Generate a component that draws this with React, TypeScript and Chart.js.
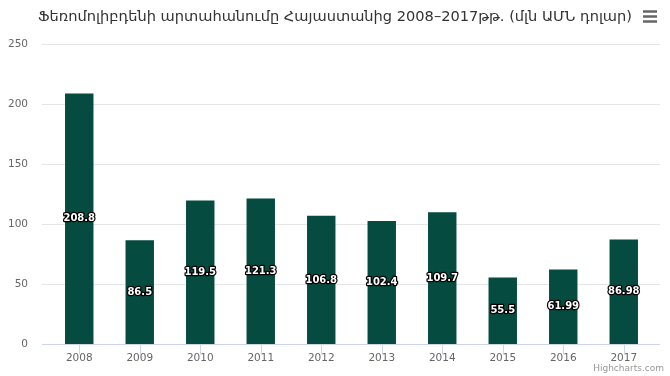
import React, { useEffect, useRef } from "react";
import { Chart, registerables } from "chart.js";

Chart.register(...registerables);

const TITLE = "Ֆեռոմոլիբդենի արտահանումը Հայաստանից 2008–2017թթ. (մլն ԱՄՆ դոլար)";
const CATEGORIES = ["2008", "2009", "2010", "2011", "2012", "2013", "2014", "2015", "2016", "2017"];
const VALUES = [208.8, 86.5, 119.5, 121.3, 106.8, 102.4, 109.7, 55.5, 61.99, 86.98];
const Y_TICKS = [0, 50, 100, 150, 200, 250];
const CREDIT = "Highcharts.com";

const BAR_COLOR = "#054b3f";

export default function App() {
  const ref = useRef<HTMLCanvasElement | null>(null);

  useEffect(() => {
    document.body.style.margin = "0";
    const canvas = ref.current;
    if (!canvas) return;

    const decor = {
      id: "decor",
      beforeDatasetsDraw(chart: any) {
        const ctx = chart.ctx;
        const y = chart.scales.y;
        const x = chart.scales.x;
        ctx.save();
        ctx.strokeStyle = "#e6e6e6";
        ctx.lineWidth = 1;
        for (const v of Y_TICKS) {
          if (v === 0) continue;
          const py = Math.round(y.getPixelForValue(v)) + 0.5;
          ctx.beginPath();
          ctx.moveTo(42, py);
          ctx.lineTo(660, py);
          ctx.stroke();
        }
        const p0 = Math.round(y.getPixelForValue(0)) + 0.5;
        ctx.strokeStyle = "#ccd6eb";
        ctx.beginPath();
        ctx.moveTo(42, p0);
        ctx.lineTo(660, p0);
        ctx.stroke();
        for (let i = 0; i < CATEGORIES.length; i++) {
          const px = Math.round(x.getPixelForValue(i)) + 0.5;
          ctx.beginPath();
          ctx.moveTo(px, p0);
          ctx.lineTo(px, p0 + 10);
          ctx.stroke();
        }
        ctx.restore();
      },
      afterDatasetsDraw(chart: any) {
        const ctx = chart.ctx;
        const meta = chart.getDatasetMeta(0);
        ctx.save();
        ctx.font = "bold 10px 'DejaVu Sans'";
        ctx.textAlign = "center";
        ctx.textBaseline = "middle";
        ctx.lineJoin = "round";
        meta.data.forEach((el: any, i: number) => {
          const cy = (el.y + el.base) / 2;
          const label = String(VALUES[i]);
          ctx.strokeStyle = "#000";
          ctx.lineWidth = 2.5;
          ctx.strokeText(label, el.x, cy);
          ctx.fillStyle = "#fff";
          ctx.fillText(label, el.x, cy);
        });
        ctx.restore();
      },
      afterDraw(chart: any) {
        const ctx = chart.ctx;
        ctx.save();
        ctx.fillStyle = "#333333";
        ctx.font = "14.6px 'DejaVu Sans'";
        ctx.textAlign = "center";
        ctx.textBaseline = "middle";
        ctx.fillText(TITLE, 335, 17);
        ctx.strokeStyle = "#666666";
        ctx.lineWidth = 2.5;
        for (const yy of [11.5, 16.5, 21.5]) {
          ctx.beginPath();
          ctx.moveTo(643, yy);
          ctx.lineTo(657, yy);
          ctx.stroke();
        }
        ctx.fillStyle = "#999999";
        ctx.font = "9px 'DejaVu Sans'";
        ctx.textAlign = "right";
        ctx.textBaseline = "alphabetic";
        ctx.fillText(CREDIT, 664, 371);
        ctx.restore();
      },
    };

    const chart = new Chart(canvas, {
      type: "bar",
      data: {
        labels: CATEGORIES,
        datasets: [
          {
            data: VALUES,
            backgroundColor: BAR_COLOR,
            borderColor: "#ffffff",
            borderWidth: 0,
            barPercentage: 1,
            categoryPercentage: 0.47,
          },
        ],
      },
      options: {
        animation: false,
        responsive: false,
        maintainAspectRatio: false,
        layout: { padding: { top: 44, right: 16, bottom: 0, left: 0 } },
        plugins: {
          legend: { display: false },
          title: { display: false },
          tooltip: { enabled: false },
        },
        scales: {
          x: {
            grid: { display: false, drawTicks: false },
            border: { display: false },
            ticks: {
              color: "#666666",
              font: { family: "'DejaVu Sans'", size: 10.5 },
              padding: 8,
              maxRotation: 0,
            },
            afterFit: (s: any) => {
              s.height = 32;
            },
          },
          y: {
            min: 0,
            max: 250,
            grid: { display: false, drawTicks: false },
            border: { display: false },
            ticks: {
              stepSize: 50,
              color: "#666666",
              font: { family: "'DejaVu Sans'", size: 10.5 },
              padding: 21,
            },
            afterFit: (s: any) => {
              s.width = 49;
            },
          },
        },
      },
      plugins: [decor],
    });

    return () => chart.destroy();
  }, []);

  return <canvas ref={ref} width={670} height={376} style={{ display: "block" }} />;
}
